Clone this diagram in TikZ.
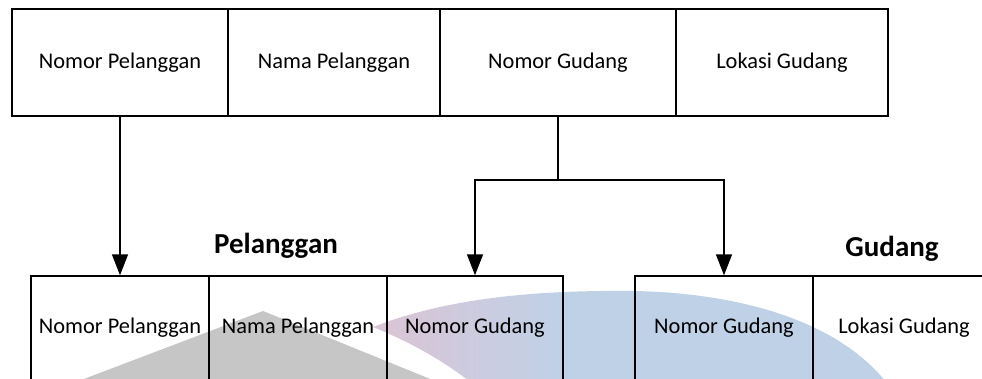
\documentclass[tikz,border=0pt]{standalone}
\usepackage{fontspec}
\setmainfont{Carlito}
\usetikzlibrary{arrows.meta,calc}
\definecolor{wmgray}{HTML}{C6C6C6}
\definecolor{wmpink}{HTML}{DCC4D4}
\definecolor{wmblue}{HTML}{BFD1E7}
\tikzset{
  cell/.style={draw=black,line width=1.4pt,inner sep=0pt,font=\fontsize{22.4}{26}\selectfont},
  ttl/.style={inner sep=0pt,font=\fontsize{29}{34}\selectfont\bfseries},
  conn/.style={line width=1.5pt},
  arr/.style={line width=1.5pt,-{Triangle[width=16pt,length=21pt]}},
}
\begin{document}
\begin{tikzpicture}[x=1pt,y=-1pt]
\useasboundingbox (0,0) rectangle (982,379);
\clip (0,0) rectangle (982,379);
\fill[white] (0,0) rectangle (982,379);
% watermark
\fill[wmgray] (263,311) -- (445,385) -- (68,385) -- cycle;
\begin{scope}
  \clip (373,327) .. controls (450,297) and (540,290) .. (635,291)
        .. controls (760,294) and (850,330) .. (892,390)
        -- (480,390) .. controls (445,360) and (405,340) .. (373,327) -- cycle;
  \fill[wmblue] (560,280) rectangle (900,390);
  \shade[left color=wmpink,right color=wmblue] (370,280) rectangle (561,390);
\end{scope}
% top relation
\node[cell,minimum width=216pt,minimum height=107pt] (tNP) at (120,62.5) {Nomor Pelanggan};
\node[cell,minimum width=212pt,minimum height=107pt] (tNM) at (334,62.5) {Nama Pelanggan};
\node[cell,minimum width=236pt,minimum height=107pt] (tNG) at (558,62.5) {Nomor Gudang};
\node[cell,minimum width=212pt,minimum height=107pt] (tLG) at (782,62.5) {Lokasi Gudang};
% bottom relations
\node[ttl] (lP) at (276,246) {Pelanggan};
\node[ttl] (lG) at (892,249) {Gudang};
\node[cell,minimum width=178pt,minimum height=104pt] (bNP) at (120,328) {Nomor Pelanggan};
\node[cell,minimum width=178pt,minimum height=104pt] (bNM) at (298,328) {Nama Pelanggan};
\node[cell,minimum width=176pt,minimum height=104pt] (bNG) at (475,328) {Nomor Gudang};
\node[cell,minimum width=178pt,minimum height=104pt] (gNG) at (724,328) {Nomor Gudang};
\node[cell,minimum width=182pt,minimum height=104pt] (gLG) at (904,328) {Lokasi Gudang};
% connectors
\coordinate (j) at (558,180);
\draw[arr] (tNP.south) -- (bNP.north);
\draw[conn] (tNG.south) -- (j);
\draw[arr] (j) -| (bNG.north);
\draw[arr] (j) -| (gNG.north);
\end{tikzpicture}
\end{document}
